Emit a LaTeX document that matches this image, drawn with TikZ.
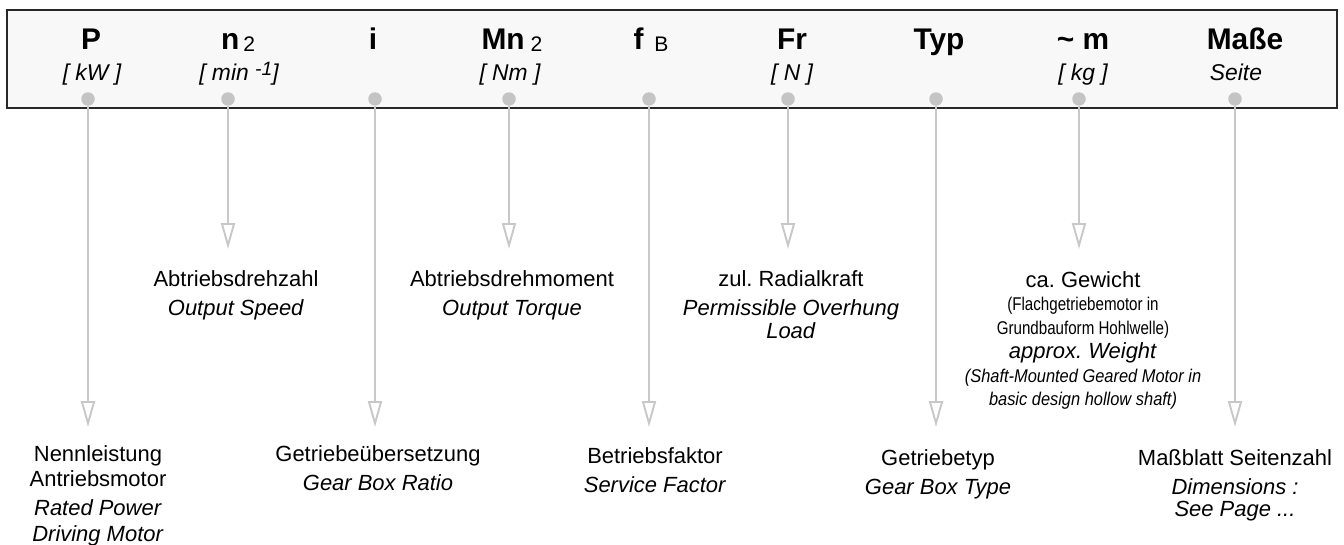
\documentclass[tikz,border=0pt]{standalone}
\usepackage{graphicx}
\usepackage{fontspec}
\setmainfont{Liberation Sans}
\usetikzlibrary{arrows.meta,positioning}
\frenchspacing

\definecolor{linegray}{RGB}{200,200,200}
\definecolor{dotgray}{RGB}{196,196,196}
\definecolor{boxfill}{RGB}{248,248,248}
\definecolor{boxline}{RGB}{40,40,40}

% Index hinter dem Kuerzel
\newcommand\kidx[2][0.08cm]{\hspace{#1}{\mdseries\fontsize{12}{12}\selectfont\raisebox{-0.04cm}{#2}}}
\newcommand\hochzahl[1]{\raisebox{0.11cm}{\fontsize{11}{11}\selectfont #1}}
% schmale Zusatzzeilen
\newcommand\klein[1]{\scalebox{0.82}[1]{\fontsize{10.5}{12}\selectfont #1}}
\newcommand\kleinit[1]{\scalebox{0.89}[1]{\fontsize{10.5}{12}\selectfont\itshape #1}}

\tikzset{
  kopf/.style={font=\fontsize{17}{20}\selectfont\bfseries, anchor=base, inner sep=0pt},
  einheit/.style={font=\fontsize{13}{15}\selectfont\itshape, anchor=base, inner sep=0pt},
  punkt/.style={circle, fill=dotgray, inner sep=0pt, minimum size=0.27cm},
  pfeil/.style={draw=linegray, line width=1.1pt, -{Triangle[open, length=0.52cm, width=0.28cm]}},
  beschr/.style={align=center, inner sep=0pt, font=\fontsize{12.5}{14.5}\selectfont}
}

\begin{document}
\begin{tikzpicture}[x=0.02cm, y=-0.02cm]
    \useasboundingbox (0,0) rectangle (1344,544);
    % Kopfleiste
    \draw[boxline, line width=1pt, fill=boxfill] (7,10) rectangle (1337,108);

    % Kuerzel und Einheiten
    \node[kopf] (kP) at (91,50) {P};
    \node[einheit] (eP) at (92,81) {[ kW ]};
    \node[kopf] (kn) at (238,50) {n\kidx{2}};
    \node[einheit] (en) at (239,81) {[ min \hochzahl{-1}]};
    \node[kopf] (ki) at (373,50) {i};
    \node[kopf] (kM) at (512,50) {Mn\kidx[0.12cm]{2}};
    \node[einheit] (eM) at (510,81) {[ Nm ]};
    \node[kopf] (kf) at (651,50) {f\kidx[0.22cm]{B}};
    \node[kopf] (kF) at (792,50) {Fr};
    \node[einheit] (eF) at (792,81) {[ N ]};
    \node[kopf] (kT) at (939,50) {Typ};
    \node[kopf] (km) at (1083,50) {\textasciitilde\ m};
    \node[einheit] (em) at (1083,81) {[ kg ]};
    \node[kopf] (kS) at (1245,50) {Maße};
    \node[einheit] (eS) at (1236,81) {Seite};

    % Punkte und Pfeile
    \foreach \n/\x/\ende in {P/88/427, n/228/249, i/375/427, M/509/249, f/649/427,
                             F/788/249, T/936/427, m/1079/249, S/1235/427} {
        \node[punkt] (d\n) at (\x,99) {};
        \coordinate (t\n) at (\x,\ende);
        \draw[pfeil] (d\n) -- (t\n);
    }

    % Erklaerungen
    \node[beschr, below=0.36cm of tP, xshift=0.2cm] (bP)
        {Nennleistung\\Antriebsmotor\\[2pt]\textit{Rated Power}\\\textit{Driving Motor}};
    \node[beschr, below=0.42cm of tn, xshift=0.16cm] (bn)
        {Abtriebsdrehzahl\\[2pt]\textit{Output Speed}};
    \node[beschr, below=0.36cm of ti, xshift=0.06cm] (bi)
        {Getriebeübersetzung\\[2pt]\textit{Gear Box Ratio}};
    \node[beschr, below=0.42cm of tM, xshift=0.06cm] (bM)
        {Abtriebsdrehmoment\\[2pt]\textit{Output Torque}};
    \node[beschr, below=0.4cm of tf, xshift=0.12cm] (bf)
        {Betriebsfaktor\\[2pt]\textit{Service Factor}};
    \node[beschr, below=0.42cm of tF, xshift=0.06cm] (bF)
        {zul. Radialkraft\\[2pt]\textit{Permissible Overhung}\\[-1pt]\textit{Load}};
    \node[beschr, below=0.44cm of tT, xshift=0.04cm] (bT)
        {Getriebetyp\\[2pt]\textit{Gear Box Type}};
    \node[beschr, font=\fontsize{12.5}{13.5}\selectfont, below=0.44cm of tm, xshift=0.08cm] (bm)
        {ca. Gewicht\\\klein{(Flachgetriebemotor in}\\\klein{Grundbauform Hohlwelle)}\\
         \textit{approx. Weight}\\\kleinit{(Shaft-Mounted Geared Motor in}\\
         \kleinit{basic design hollow shaft)}};
    \node[beschr, below=0.44cm of tS] (bS)
        {Maßblatt Seitenzahl\\[2pt]\textit{Dimensions :}\\[-2pt]\textit{See Page ...}};
\end{tikzpicture}
\end{document}
